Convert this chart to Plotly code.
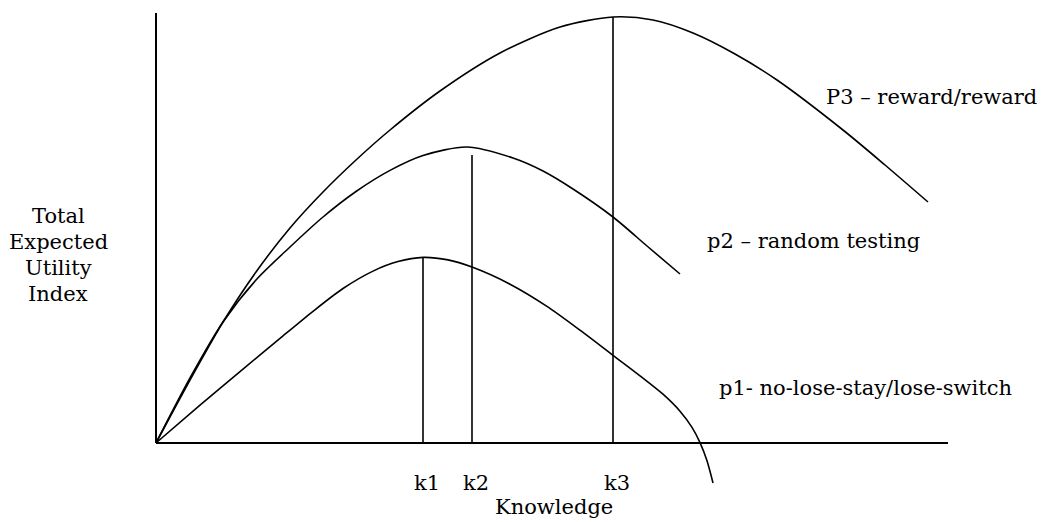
import plotly.graph_objects as go

# Knowledge (x) and Total Expected Utility Index (y), arbitrary units
p3_x = [0, 34, 67, 100, 134, 167, 200, 234, 284, 344, 404, 457, 497, 537, 579, 621, 687, 729, 772]
p3_y = [0, 63, 121, 171, 215, 251, 283, 313, 352, 390, 416, 426, 423, 410, 389, 363, 313, 278, 241]

p2_x = [0, 34, 67, 100, 134, 167, 200, 234, 267, 311, 357, 387, 417, 457, 491, 524]
p2_y = [0, 65, 121, 163, 196, 226, 251.5, 272.6, 287.5, 296, 285, 272, 254, 226, 197, 169]

p1_x = [0, 44, 84, 124, 157, 187, 217, 242, 267, 292, 316, 354, 391, 424, 457, 484, 507, 524, 536, 544, 551, 557]
p1_y = [0, 37.8, 71.4, 104.6, 131.7, 154.5, 171.9, 181.4, 185.6, 183.1, 175.9, 158.8, 136.6, 112.8, 87.7,
        67.2, 48.8, 31.8, 15.6, 0.4, -17.8, -40]

k_names = ["k1", "k2", "k3"]
k_x = [267, 316, 457]
k_top = [185, 288, 426]

x_axis_end = 792
y_axis_end = 430

curve_labels = ["P3 \u2013 reward/reward", "p2 \u2013 random testing", "p1- no-lose-stay/lose-switch"]
curve_label_x = [668, 549, 561]
curve_label_y = [346, 202, 55]

x_title = "Knowledge"
y_title_lines = ["Total", "Expected", "Utility", "Index"]
y_title_line_y = [227, 201, 175, 149]

FONT = "DejaVu Serif, Liberation Serif, serif"

fig = go.Figure()
for xs, ys in [(p3_x, p3_y), (p2_x, p2_y), (p1_x, p1_y)]:
    fig.add_trace(go.Scatter(x=xs, y=ys, mode="lines",
                             line=dict(color="black", width=1.6, shape="spline", smoothing=0.8),
                             hoverinfo="skip", showlegend=False))

# k vertical lines
for kx, kt in zip(k_x, k_top):
    fig.add_trace(go.Scatter(x=[kx, kx], y=[0, kt], mode="lines",
                             line=dict(color="black", width=1.6),
                             hoverinfo="skip", showlegend=False))

# axis lines
fig.add_trace(go.Scatter(x=[0, x_axis_end], y=[0, 0], mode="lines",
                         line=dict(color="black", width=2), hoverinfo="skip", showlegend=False))
fig.add_trace(go.Scatter(x=[0, 0], y=[0, y_axis_end], mode="lines",
                         line=dict(color="black", width=2), hoverinfo="skip", showlegend=False))

def txt_font(size):
    return dict(family=FONT, size=size, color="black")

annotations = []
for txt, lx, ly in zip(curve_labels, curve_label_x, curve_label_y):
    annotations.append(dict(x=lx, y=ly, text=txt, showarrow=False, xanchor="left", yanchor="middle",
                            font=txt_font(21)))
for name, kx in zip(k_names, k_x):
    annotations.append(dict(x=kx + 4, y=-40, text=name, showarrow=False, xanchor="center", yanchor="middle",
                            font=txt_font(21)))
annotations.append(dict(x=398, y=-64, text=x_title, showarrow=False, xanchor="center", yanchor="middle",
                        font=txt_font(21)))
for line, ly in zip(y_title_lines, y_title_line_y):
    annotations.append(dict(x=-98, y=ly, text=line, showarrow=False, xanchor="center", yanchor="middle",
                            font=txt_font(21)))

fig.update_layout(
    width=1046, height=522,
    margin=dict(l=0, r=0, t=0, b=0),
    paper_bgcolor="white", plot_bgcolor="white",
    xaxis=dict(range=[-156, 890], visible=False, fixedrange=True),
    yaxis=dict(range=[-79, 443], visible=False, fixedrange=True),
    annotations=annotations,
    showlegend=False,
)

fig.write_html("out.html", config={"displayModeBar": False, "staticPlot": True},
               post_script="document.body.style.margin='0px';")
